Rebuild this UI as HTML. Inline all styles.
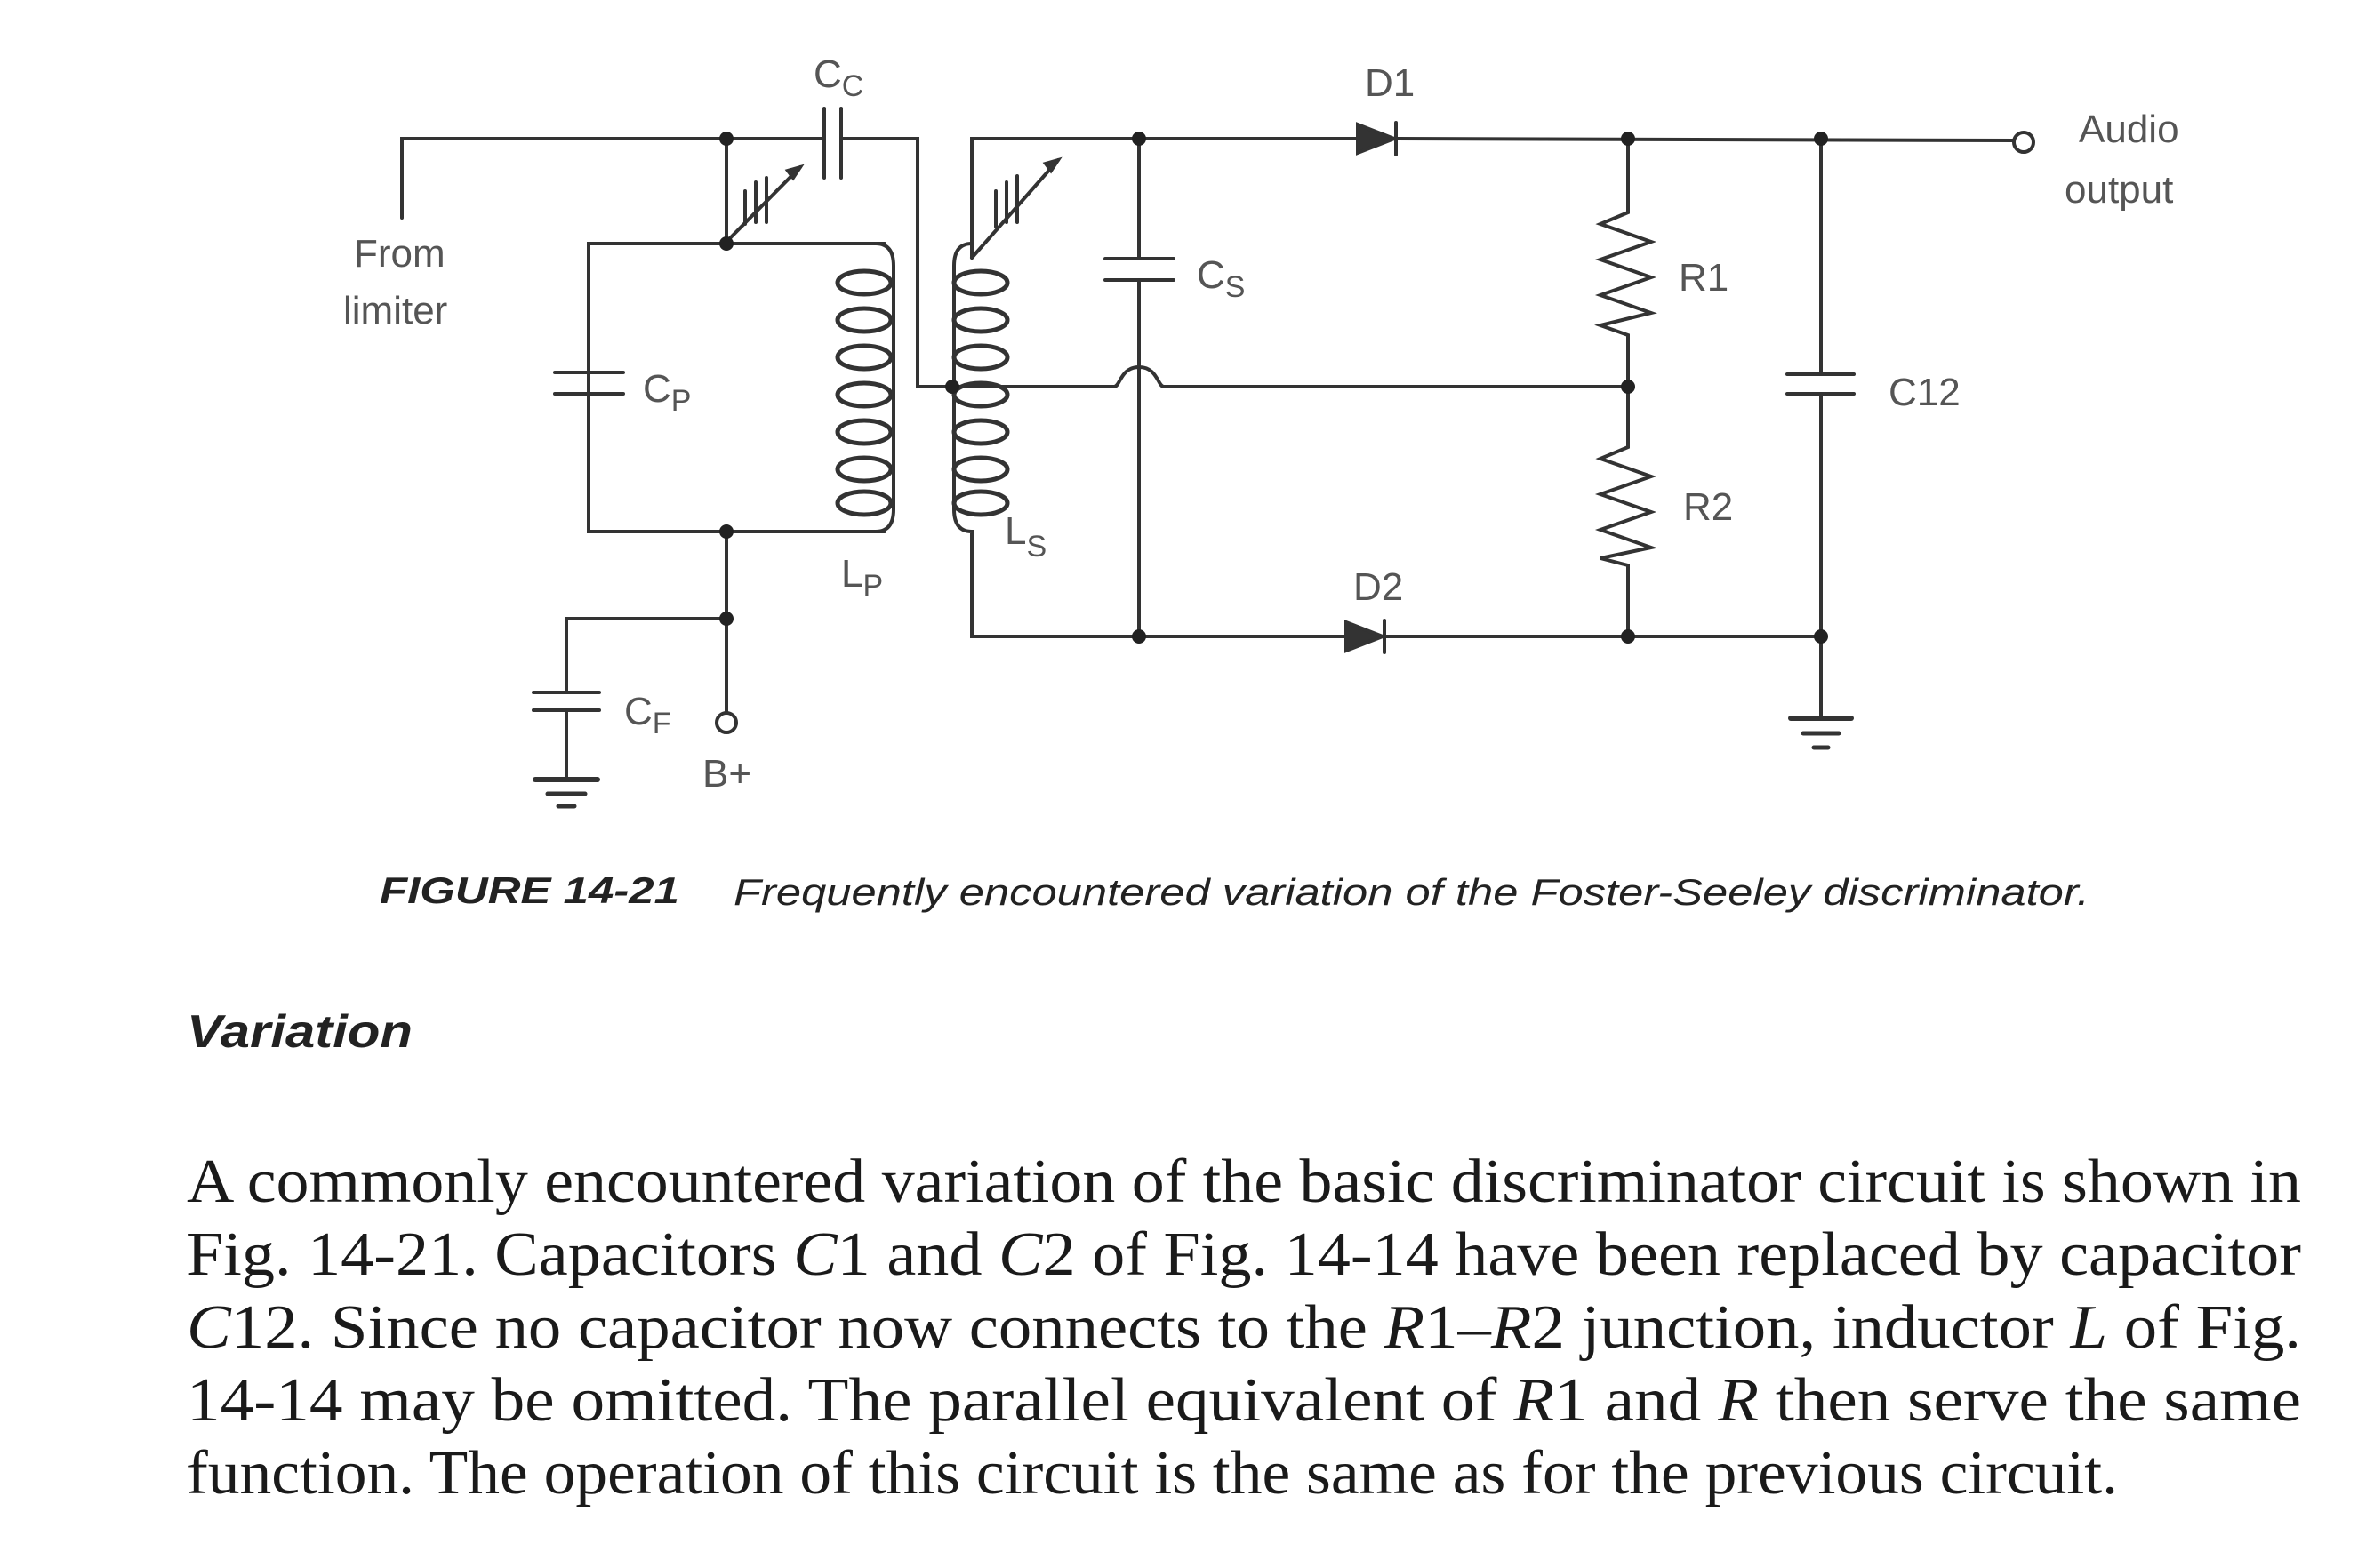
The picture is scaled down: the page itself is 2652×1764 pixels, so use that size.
<!DOCTYPE html>
<html><head><meta charset="utf-8"><style>
html,body{margin:0;padding:0;background:#fff;}
svg{display:block;}
</style></head><body>
<svg width="2652" height="1764" viewBox="0 0 2652 1764" xmlns="http://www.w3.org/2000/svg">
<rect width="2652" height="1764" fill="#fff"/>
<g stroke="#333" stroke-width="4" fill="none" stroke-linecap="round">
<polyline points="452,245 452,156 927,156"/>
<line x1="927" y1="122" x2="927" y2="200"/>
<line x1="946" y1="122" x2="946" y2="200"/>
<polyline points="946,156 1032,156 1032,435 1071,435"/>
<line x1="817" y1="156" x2="817" y2="274"/>
<line x1="817" y1="272" x2="900" y2="188"/>
<path d="M900,188 l-14,4 l6,8 z" fill="#333"/>
<line x1="838" y1="215" x2="838" y2="252"/><line x1="850" y1="205" x2="850" y2="250"/><line x1="862" y1="200" x2="862" y2="250"/>
<polyline points="995,274 662,274 662,598 995,598"/>
<line x1="624" y1="419" x2="701" y2="419"/>
<line x1="624" y1="443" x2="701" y2="443"/>
<path d="M985,274 q20,0 20,25 L1005,573 q0,25 -20,25"/>
<g stroke-width="5">
<ellipse cx="972" cy="318" rx="30" ry="13"/>
<ellipse cx="972" cy="360" rx="30" ry="13"/>
<ellipse cx="972" cy="402" rx="30" ry="13"/>
<ellipse cx="972" cy="444" rx="30" ry="13"/>
<ellipse cx="972" cy="486" rx="30" ry="13"/>
<ellipse cx="972" cy="528" rx="30" ry="13"/>
<ellipse cx="972" cy="566" rx="30" ry="13"/>
</g>
<line x1="817" y1="598" x2="817" y2="801"/>
<circle cx="817" cy="813" r="11"/>
<polyline points="817,696 637,696 637,779"/>
<line x1="600" y1="779" x2="674" y2="779"/>
<line x1="600" y1="799" x2="674" y2="799"/>
<line x1="637" y1="799" x2="637" y2="877"/>
<line x1="602" y1="877" x2="672" y2="877" stroke-width="6"/>
<line x1="616" y1="893" x2="658" y2="893" stroke-width="5"/>
<line x1="628" y1="907" x2="646" y2="907" stroke-width="5"/>
<polyline points="1093,290 1093,156 1525,156"/>
<line x1="1093" y1="290" x2="1190" y2="180"/>
<path d="M1190,180 l-14,4 l6,8 z" fill="#333"/>
<line x1="1120" y1="215" x2="1120" y2="255"/><line x1="1132" y1="205" x2="1132" y2="250"/><line x1="1144" y1="198" x2="1144" y2="250"/>
<path d="M1093,274 q-20,0 -20,25 L1073,573 q0,25 20,25 L1093,716 L1512,716"/>
<g stroke-width="5">
<ellipse cx="1103" cy="318" rx="30" ry="13"/>
<ellipse cx="1103" cy="360" rx="30" ry="13"/>
<ellipse cx="1103" cy="402" rx="30" ry="13"/>
<ellipse cx="1103" cy="444" rx="30" ry="13"/>
<ellipse cx="1103" cy="486" rx="30" ry="13"/>
<ellipse cx="1103" cy="528" rx="30" ry="13"/>
<ellipse cx="1103" cy="566" rx="30" ry="13"/>
</g>
<line x1="1281" y1="156" x2="1281" y2="291"/>
<line x1="1243" y1="291" x2="1320" y2="291"/>
<line x1="1243" y1="315" x2="1320" y2="315"/>
<line x1="1281" y1="315" x2="1281" y2="716"/>
<path d="M1071,435 L1253,435 C1260,435 1260,413 1281,413 C1302,413 1302,435 1309,435 L1831,435"/>
<line x1="1572" y1="156" x2="2265" y2="158"/>
<circle cx="2276" cy="160" r="11"/>
<path d="M1527,140 L1527,172 L1568,156 Z" fill="#333"/>
<line x1="1570" y1="138" x2="1570" y2="174"/>
<path d="M1514,700 L1514,732 L1555,716 Z" fill="#333"/>
<line x1="1557" y1="698" x2="1557" y2="734"/>
<line x1="1557" y1="716" x2="2048" y2="716"/>
<polyline points="1831,156 1831,239 1800,252 1857,272 1800,292 1857,312 1800,332 1857,352 1800,366 1831,377 1831,503 1800,516 1857,536 1800,556 1857,576 1800,596 1857,616 1800,628 1831,636 1831,716"/>
<line x1="2048" y1="156" x2="2048" y2="421"/>
<line x1="2010" y1="421" x2="2085" y2="421"/>
<line x1="2010" y1="443" x2="2085" y2="443"/>
<line x1="2048" y1="443" x2="2048" y2="808"/>
<line x1="2014" y1="808" x2="2082" y2="808" stroke-width="6"/>
<line x1="2028" y1="825" x2="2068" y2="825" stroke-width="5"/>
<line x1="2040" y1="841" x2="2056" y2="841" stroke-width="5"/>
</g>
<g fill="#222">
<circle cx="817" cy="156" r="8"/><circle cx="817" cy="274" r="8"/><circle cx="817" cy="598" r="8"/><circle cx="817" cy="696" r="8"/>
<circle cx="1071" cy="435" r="8"/><circle cx="1281" cy="156" r="8"/><circle cx="1281" cy="716" r="8"/>
<circle cx="1831" cy="156" r="8"/><circle cx="1831" cy="435" r="8"/><circle cx="1831" cy="716" r="8"/>
<circle cx="2048" cy="156" r="8"/><circle cx="2048" cy="716" r="8"/>
</g>
<g font-family="Liberation Sans, sans-serif" font-size="44" fill="#555">
<text x="915" y="98">C<tspan font-size="34" dy="10">C</tspan></text>
<text x="1535" y="108">D1</text>
<text x="2338" y="160">Audio</text>
<text x="2322" y="228">output</text>
<text x="398" y="300">From</text>
<text x="386" y="364">limiter</text>
<text x="723" y="452">C<tspan font-size="34" dy="10">P</tspan></text>
<text x="1346" y="324">C<tspan font-size="34" dy="10">S</tspan></text>
<text x="1888" y="327">R1</text>
<text x="2124" y="456">C12</text>
<text x="1893" y="585">R2</text>
<text x="1130" y="612">L<tspan font-size="34" dy="14">S</tspan></text>
<text x="946" y="660">L<tspan font-size="34" dy="10">P</tspan></text>
<text x="1522" y="675">D2</text>
<text x="702" y="815">C<tspan font-size="34" dy="10">F</tspan></text>
<text x="790" y="885">B+</text>
</g>
<g font-family="Liberation Sans, sans-serif" font-style="italic" fill="#222">
<text x="427" y="1016" font-size="42" font-weight="bold" textLength="337" lengthAdjust="spacingAndGlyphs">FIGURE 14-21</text>
<text x="825" y="1018" font-size="42" textLength="1525" lengthAdjust="spacingAndGlyphs">Frequently encountered variation of the Foster-Seeley discriminator.</text>
<text x="210" y="1178" font-size="52" font-weight="bold" textLength="254" lengthAdjust="spacingAndGlyphs">Variation</text>
</g>
<g font-family="Liberation Serif, serif" font-size="70" fill="#1a1a1a">
<text x="210" y="1352" textLength="2378" lengthAdjust="spacingAndGlyphs">A commonly encountered variation of the basic discriminator circuit is shown in</text>
<text x="210" y="1434" textLength="2378" lengthAdjust="spacingAndGlyphs">Fig. 14-21. Capacitors <tspan font-style="italic">C</tspan>1 and <tspan font-style="italic">C</tspan>2 of Fig. 14-14 have been replaced by capacitor</text>
<text x="210" y="1516" textLength="2378" lengthAdjust="spacingAndGlyphs"><tspan font-style="italic">C</tspan>12. Since no capacitor now connects to the <tspan font-style="italic">R</tspan>1–<tspan font-style="italic">R</tspan>2 junction, inductor <tspan font-style="italic">L</tspan> of Fig.</text>
<text x="210" y="1598" textLength="2378" lengthAdjust="spacingAndGlyphs">14-14 may be omitted. The parallel equivalent of <tspan font-style="italic">R</tspan>1 and <tspan font-style="italic">R</tspan> then serve the same</text>
<text x="210" y="1680" textLength="2172" lengthAdjust="spacingAndGlyphs">function. The operation of this circuit is the same as for the previous circuit.</text>
</g>
</svg>
</body></html>
